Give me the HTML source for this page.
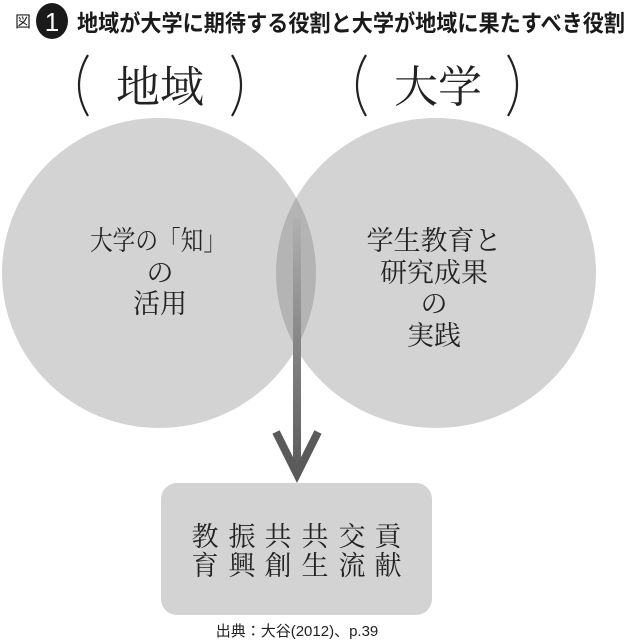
<!DOCTYPE html>
<html><head><meta charset="utf-8"><style>
html,body{margin:0;padding:0;background:#fff;}
svg{display:block;}
</style></head><body>
<svg width="630" height="644" viewBox="0 0 630 644" xmlns="http://www.w3.org/2000/svg">
<defs>
<linearGradient id="g" x1="0" y1="0" x2="0" y2="1">
<stop offset="0" stop-color="#b0b0b0"/>
<stop offset="1" stop-color="#5a5a5a"/>
</linearGradient>
</defs>
<text x="15" y="27" font-family="Liberation Sans, Noto Sans CJK JP, sans-serif" font-size="16" fill="#222">図</text>
<ellipse cx="52" cy="21" rx="16" ry="18" fill="#1a1a1a"/>
<text x="52" y="31" text-anchor="middle" font-family="Liberation Sans, sans-serif" font-size="26" fill="#fff">1</text>
<text x="77" y="31" textLength="548" lengthAdjust="spacingAndGlyphs" font-family="Liberation Sans, Noto Sans CJK JP, sans-serif" font-weight="bold" font-size="23" fill="#1a1a1a">地域が大学に期待する役割と大学が地域に果たすべき役割</text>

<g fill="none" stroke="#222" stroke-width="2.2">
<path d="M88,55 Q70,85 88,116"/>
<path d="M232,55 Q250,85 232,116"/>
<path d="M366,55 Q348,85 366,116"/>
<path d="M508,55 Q526,85 508,116"/>
</g>
<g font-family="Liberation Serif, Noto Serif CJK SC, serif" fill="#222">
<text x="160" y="102" font-size="44" text-anchor="middle">地域</text>
<text x="438" y="102" font-size="44" text-anchor="middle">大学</text>
</g>

<ellipse cx="159" cy="273" rx="157" ry="155" fill="#d3d3d3"/>
<ellipse cx="436" cy="273" rx="160" ry="155" fill="#d3d3d3"/>
<clipPath id="c"><ellipse cx="159" cy="273" rx="157" ry="155"/></clipPath>
<ellipse cx="436" cy="273" rx="160" ry="155" fill="#b4b4b4" clip-path="url(#c)"/>

<g font-family="Liberation Serif, Noto Serif CJK SC, serif" fill="#222" font-size="27" text-anchor="middle">
<text x="158" y="250" textLength="136" lengthAdjust="spacingAndGlyphs">大学の「知」</text>
<text x="160" y="282">の</text>
<text x="160" y="313">活用</text>
<text x="434" y="250">学生教育と</text>
<text x="434" y="282">研究成果</text>
<text x="434" y="313">の</text>
<text x="434" y="345">実践</text>
</g>

<rect x="293" y="218" width="8" height="255" fill="url(#g)"/>
<polyline points="276,432 297,474 318,432" fill="none" stroke="#5a5a5a" stroke-width="8"/>

<rect x="161" y="483" width="271" height="132" rx="16" fill="#d3d3d3"/>
<g font-family="Liberation Serif, Noto Serif CJK SC, serif" fill="#222" font-size="27" text-anchor="middle">
<text x="205" y="546">教</text><text x="242" y="546">振</text><text x="278" y="546">共</text><text x="315" y="546">共</text><text x="352" y="546">交</text><text x="388" y="546">貢</text>
<text x="205" y="575">育</text><text x="242" y="575">興</text><text x="278" y="575">創</text><text x="315" y="575">生</text><text x="352" y="575">流</text><text x="388" y="575">献</text>
</g>
<text x="297" y="636" text-anchor="middle" font-family="Liberation Sans, Noto Sans CJK JP, sans-serif" font-size="15" fill="#222">出典：大谷(2012)、p.39</text>
</svg>
</body></html>
